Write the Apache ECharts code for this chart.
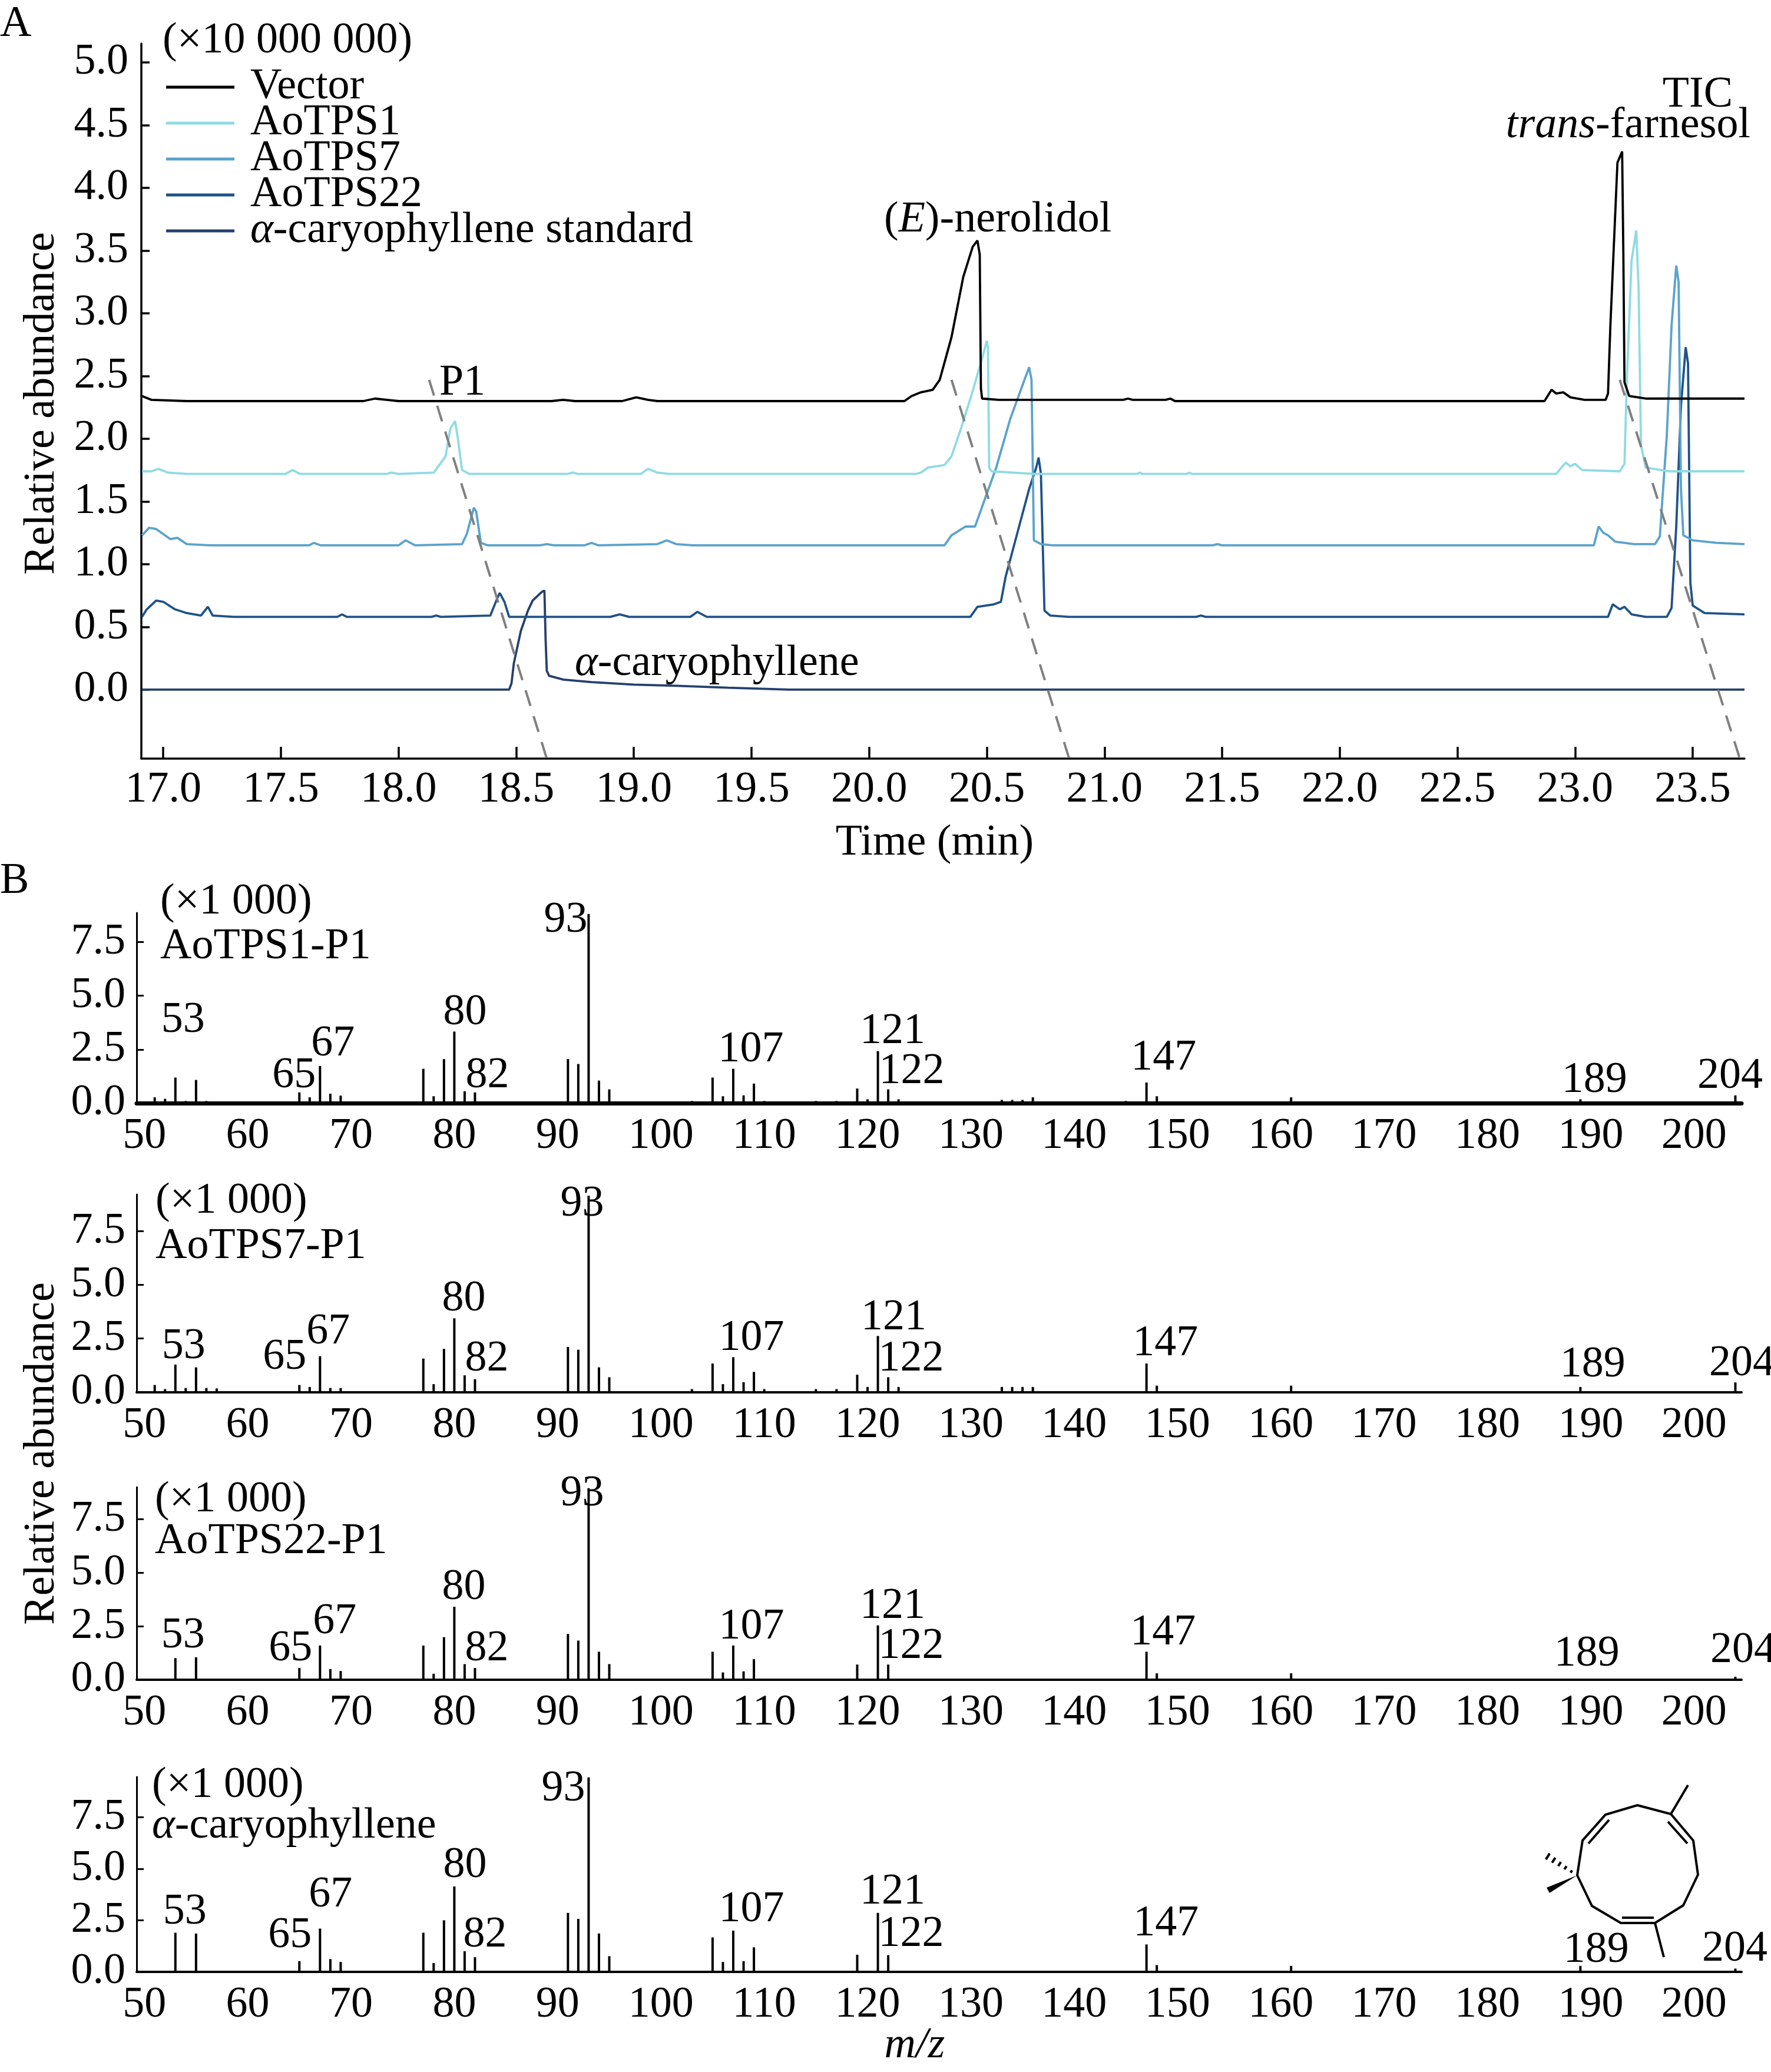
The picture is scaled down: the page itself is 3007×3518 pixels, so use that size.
<!doctype html>
<html>
<head>
<meta charset="utf-8">
<title>TIC and mass spectra</title>
<style>
html, body { margin: 0; padding: 0; background: #fff; }
#chart { width: 3007px; height: 3518px; }
</style>
</head>
<body>
<div id="chart"></div>
<script src="https://cdn.jsdelivr.net/npm/echarts@6/dist/echarts.min.js"></script>
<script>
// ---- panel A: total ion chromatograms, [time (min), abundance x10 000 000]
var vectorTrace = [[16.91,2.34],[16.95,2.31],[17.1,2.30],[17.5,2.30],[17.85,2.30],[17.9,2.32],[17.95,2.31],[18.0,2.30],[18.65,2.30],[18.7,2.31],[18.75,2.30],[18.95,2.30],[19.01,2.33],[19.06,2.31],[19.1,2.30],[20.15,2.30],[20.18,2.34],[20.22,2.37],[20.27,2.39],[20.30,2.47],[20.35,2.81],[20.40,3.29],[20.44,3.53],[20.46,3.58],[20.47,3.47],[20.475,2.40],[20.48,2.32],[20.55,2.31],[21.08,2.31],[21.1,2.32],[21.12,2.31],[21.26,2.31],[21.28,2.32],[21.3,2.30],[22.87,2.30],[22.90,2.39],[22.92,2.36],[22.95,2.37],[22.98,2.33],[23.04,2.31],[23.13,2.31],[23.14,2.36],[23.15,2.90],[23.18,4.20],[23.20,4.29],[23.205,3.5],[23.21,2.45],[23.23,2.34],[23.3,2.32],[23.72,2.32]];
var tps1Trace = [[16.91,1.74],[16.95,1.74],[16.98,1.76],[17.02,1.73],[17.1,1.72],[17.52,1.72],[17.55,1.75],[17.58,1.72],[17.95,1.72],[17.97,1.73],[18.0,1.72],[18.15,1.73],[18.20,1.86],[18.22,2.08],[18.24,2.14],[18.25,2.03],[18.27,1.75],[18.3,1.72],[18.72,1.72],[18.74,1.73],[18.76,1.72],[19.03,1.72],[19.06,1.76],[19.1,1.73],[19.15,1.72],[20.2,1.72],[20.22,1.73],[20.25,1.77],[20.32,1.79],[20.35,1.86],[20.39,2.08],[20.44,2.38],[20.48,2.64],[20.50,2.78],[20.505,2.72],[20.51,1.77],[20.52,1.74],[20.7,1.72],[21.14,1.72],[21.15,1.73],[21.16,1.72],[21.35,1.72],[21.36,1.73],[21.37,1.72],[22.92,1.72],[22.96,1.81],[22.98,1.78],[23.0,1.80],[23.03,1.75],[23.19,1.74],[23.21,1.80],[23.22,2.47],[23.24,3.42],[23.26,3.66],[23.27,3.2],[23.28,1.95],[23.30,1.77],[23.4,1.74],[23.72,1.74]];
var tps7Trace = [[16.91,1.23],[16.94,1.29],[16.97,1.28],[17.03,1.20],[17.06,1.21],[17.1,1.16],[17.2,1.15],[17.62,1.15],[17.64,1.17],[17.67,1.15],[18.0,1.15],[18.03,1.19],[18.07,1.15],[18.27,1.16],[18.29,1.24],[18.32,1.45],[18.33,1.42],[18.35,1.17],[18.38,1.15],[18.6,1.15],[18.63,1.16],[18.66,1.15],[18.79,1.15],[18.82,1.17],[18.85,1.15],[19.1,1.16],[19.14,1.19],[19.18,1.16],[19.25,1.15],[20.32,1.15],[20.35,1.23],[20.41,1.30],[20.45,1.30],[20.49,1.51],[20.54,1.77],[20.60,2.16],[20.66,2.47],[20.68,2.57],[20.69,2.47],[20.70,1.19],[20.73,1.16],[20.78,1.15],[21.46,1.15],[21.48,1.16],[21.5,1.15],[23.08,1.15],[23.10,1.30],[23.12,1.25],[23.14,1.23],[23.17,1.18],[23.25,1.16],[23.34,1.16],[23.36,1.22],[23.39,2.03],[23.41,2.90],[23.43,3.38],[23.44,3.25],[23.45,1.60],[23.46,1.23],[23.50,1.19],[23.6,1.17],[23.72,1.16]];
var tps22Trace = [[16.91,0.58],[16.93,0.64],[16.97,0.71],[17.0,0.70],[17.05,0.64],[17.1,0.61],[17.16,0.59],[17.19,0.66],[17.21,0.59],[17.3,0.58],[17.74,0.58],[17.76,0.60],[17.78,0.58],[18.14,0.58],[18.16,0.59],[18.18,0.58],[18.39,0.59],[18.42,0.73],[18.43,0.77],[18.45,0.70],[18.47,0.58],[18.9,0.58],[18.94,0.60],[18.98,0.58],[19.24,0.58],[19.27,0.62],[19.31,0.58],[20.43,0.58],[20.46,0.66],[20.53,0.68],[20.56,0.70],[20.58,0.90],[20.63,1.25],[20.68,1.60],[20.71,1.77],[20.72,1.85],[20.73,1.72],[20.745,0.63],[20.77,0.59],[20.85,0.58],[21.39,0.58],[21.41,0.59],[21.43,0.58],[23.14,0.58],[23.16,0.68],[23.19,0.64],[23.21,0.66],[23.24,0.60],[23.30,0.58],[23.39,0.58],[23.41,0.65],[23.43,1.30],[23.45,2.26],[23.47,2.73],[23.48,2.60],[23.49,0.85],[23.50,0.67],[23.55,0.61],[23.72,0.60]];
var standardTrace = [[16.91,0],[18.47,0],[18.48,0.05],[18.49,0.21],[18.52,0.47],[18.55,0.63],[18.57,0.71],[18.61,0.78],[18.62,0.79],[18.625,0.4],[18.63,0.15],[18.64,0.11],[18.70,0.08],[18.82,0.06],[19.0,0.04],[19.18,0.03],[19.4,0.015],[19.66,0],[23.72,0]];

// dashed guides linking the same compound across traces
var p1Guide = [[18.13,2.47],[18.63,-0.55]];
var nerolidolGuide = [[20.35,2.47],[20.85,-0.55]];
var farnesolGuide = [[23.19,2.47],[23.70,-0.55]];

var timeTicks = [17.0,17.5,18.0,18.5,19.0,19.5,20.0,20.5,21.0,21.5,22.0,22.5,23.0,23.5];
var ticTicks = [0.0,0.5,1.0,1.5,2.0,2.5,3.0,3.5,4.0,4.5,5.0];

// ---- panel B: mass spectra, [m/z, abundance x1 000]
var tps1Spectrum = [[51,0.27],[52,0.2],[53,1.19],[54,0.1],[55,1.08],[56,0.1],[57,0.08],[65,0.5],[66,0.27],[67,1.73],[68,0.44],[69,0.35],[77,1.6],[78,0.32],[79,2.05],[80,3.33],[81,0.55],[82,0.5],[91,2.05],[92,1.82],[93,8.8],[94,1.05],[95,0.64],[103,0.1],[105,1.19],[106,0.32],[107,1.6],[108,0.36],[109,0.91],[110,0.1],[115,0.1],[117,0.1],[119,0.68],[120,0.18],[121,2.42],[122,0.64],[123,0.18],[133,0.15],[134,0.15],[135,0.15],[136,0.27],[145,0.1],[147,0.96],[148,0.32],[161,0.27],[175,0.04],[189,0.18],[204,0.36]];
var tps7Spectrum = [[51,0.34],[52,0.15],[53,1.29],[54,0.2],[55,1.16],[56,0.2],[57,0.18],[65,0.34],[66,0.25],[67,1.68],[68,0.2],[69,0.2],[77,1.57],[78,0.38],[79,2.02],[80,3.44],[81,0.79],[82,0.61],[91,2.11],[92,1.98],[93,9.14],[94,1.16],[95,0.7],[103,0.15],[105,1.34],[106,0.38],[107,1.63],[108,0.47],[109,0.95],[110,0.15],[115,0.15],[117,0.15],[119,0.82],[120,0.25],[121,2.62],[122,0.7],[123,0.25],[133,0.25],[134,0.25],[135,0.25],[136,0.25],[147,1.34],[148,0.31],[161,0.31],[189,0.25],[204,0.46]];
var tps22Spectrum = [[53,1.01],[55,1.05],[65,0.55],[67,1.6],[68,0.5],[69,0.41],[77,1.6],[78,0.28],[79,1.99],[80,3.41],[81,0.73],[82,0.55],[91,2.14],[92,1.83],[93,8.95],[94,1.31],[95,0.73],[105,1.31],[106,0.34],[107,1.6],[108,0.39],[109,0.96],[119,0.71],[121,2.54],[122,0.71],[147,1.31],[148,0.3],[161,0.3],[189,0.04],[204,0.14]];
var standardSpectrum = [[53,1.9],[55,1.86],[65,0.52],[67,2.1],[68,0.62],[69,0.48],[77,1.9],[78,0.43],[79,2.5],[80,4.14],[81,1.0],[82,0.71],[91,2.86],[92,2.57],[93,9.43],[94,1.86],[95,0.76],[105,1.67],[106,0.48],[107,2.0],[108,0.52],[109,1.19],[119,0.83],[121,2.86],[122,0.81],[147,1.33],[148,0.33],[161,0.29],[189,0.29],[204,0.16]];

var mzTicks = [50,60,70,80,90,100,110,120,130,140,150,160,170,180,190,200];
var msTicks = [0.0,2.5,5.0,7.5];
var spectrumNames = ['AoTPS1-P1','AoTPS7-P1','AoTPS22-P1','{i|α}-caryophyllene'];

// ---- layout / style
var FONT = 'Liberation Serif';
var FS = 74;
var colors = ['#000000','#8fdbe3','#5aa3cc','#1f5288','#24406e'];
var traceNames = ['Vector','AoTPS1','AoTPS7','AoTPS22','α-caryophyllene standard'];
var traces = [vectorTrace, tps1Trace, tps7Trace, tps22Trace, standardTrace];
var spectra = [tps1Spectrum, tps7Spectrum, tps22Spectrum, standardSpectrum];

// grids of the mass spectra: top px, height px, y max, x-axis width
var msGrid = [
    {top: 1550, height: 323, max: 8.85, line: 7},
    {top: 2028, height: 336, max: 9.2, line: 4},
    {top: 2525, height: 327, max: 9.0, line: 4},
    {top: 3017, height: 331, max: 9.45, line: 4}
];
// label centre relative to the bar top [dx, dy] for the annotated peaks
var peakLabelPos = [
    {53:[13,-97],65:[-9,-28],67:[22,-37],80:[18,-32],82:[21,-28],93:[-39,11],107:[30,-32],121:[25,-33],122:[40,-30],147:[29,-41],189:[24,-32],204:[-9,-32]},
    {53:[14,-30],65:[-25,-47],67:[14,-41],80:[16,-33],82:[20,-34],93:[-11,14],107:[31,-32],121:[27,-31],122:[39,-31],147:[32,-33],189:[21,-37],204:[11,-32]},
    {53:[13,-38],65:[-15,-32],67:[25,-40],80:[16,-33],82:[20,-32],93:[-11,10],107:[31,-31],121:[25,-32],122:[39,-31],147:[28,-32],189:[11,-42],204:[13,-44]},
    {53:[16,-35],65:[-16,-43],67:[18,-57],80:[18,-35],82:[17,-38],93:[-43,20],107:[31,-35],121:[25,-35],122:[39,-35],147:[33,-35],189:[27,-26],204:[-1,-33]}
];

function fmt1(v) { return Number(v).toFixed(1); }

var grids = [{left: 240, top: 74, width: 2722, height: 1214}];
var xAxes = [{
    type: 'value', gridIndex: 0, min: 16.907, max: 23.72,
    axisLine: {onZero: false, lineStyle: {color: '#000', width: 3.5}},
    axisTick: {inside: true, length: 20, customValues: timeTicks, lineStyle: {color: '#000', width: 3.5}},
    axisLabel: {customValues: timeTicks, formatter: fmt1, margin: 17, fontFamily: FONT, fontSize: FS, color: '#000'},
    splitLine: {show: false}
}];
var yAxes = [{
    type: 'value', gridIndex: 0, min: -0.55, max: 5.15,
    axisLine: {lineStyle: {color: '#000', width: 3.5}},
    axisTick: {inside: true, length: 14, customValues: ticTicks, lineStyle: {color: '#000', width: 3.5}},
    axisLabel: {customValues: ticTicks, formatter: fmt1, margin: 22, fontFamily: FONT, fontSize: FS, color: '#000'},
    splitLine: {show: false}
}];
var series = [];

traces.forEach(function (t, i) {
    series.push({
        name: traceNames[i], type: 'line', xAxisIndex: 0, yAxisIndex: 0,
        symbol: 'none', showSymbol: false, z: 10 - i,
        lineStyle: {color: colors[i], width: 3.8}, itemStyle: {color: colors[i]},
        data: t
    });
});
[p1Guide, nerolidolGuide, farnesolGuide].forEach(function (g) {
    series.push({
        type: 'line', xAxisIndex: 0, yAxisIndex: 0, symbol: 'none', z: 20,
        lineStyle: {color: '#808080', width: 4, type: [28, 18]},
        data: g
    });
});

msGrid.forEach(function (g, k) {
    var idx = k + 1;
    grids.push({left: 232, top: g.top, width: 2725, height: g.height});
    xAxes.push({
        type: 'value', gridIndex: idx, min: 49.25, max: 204.6,
        axisLine: {onZero: false, lineStyle: {color: '#000', width: g.line}},
        axisTick: {show: false},
        axisLabel: {customValues: mzTicks, margin: 20, fontFamily: FONT, fontSize: FS, color: '#000'},
        splitLine: {show: false}
    });
    yAxes.push({
        type: 'value', gridIndex: idx, min: 0, max: g.max,
        axisLine: {lineStyle: {color: '#000', width: 3}},
        axisTick: {inside: true, length: 12, customValues: msTicks, lineStyle: {color: '#000', width: 3}},
        axisLabel: {customValues: msTicks, formatter: fmt1, margin: 19, fontFamily: FONT, fontSize: FS, color: '#000'},
        splitLine: {show: false}
    });
    var pos = peakLabelPos[k];
    series.push({
        type: 'bar', xAxisIndex: idx, yAxisIndex: idx, barWidth: 4,
        itemStyle: {color: '#000'},
        label: {
            show: false, position: 'top', distance: 0,
            fontFamily: FONT, fontSize: FS, lineHeight: 72, color: '#000',
            formatter: function (p) { return String(p.value[0]); }
        },
        data: spectra[k].map(function (d) {
            var o = pos[d[0]];
            if (!o) return {value: d};
            return {value: d, label: {show: true, offset: [o[0], o[1] + 36]}};
        })
    });
});

function txt(x, y, s, extra) {
    var st = {text: s, x: 0, y: 0, fontFamily: FONT, fontSize: FS, fill: '#000',
        align: 'left', verticalAlign: 'middle',
        rich: {i: {fontFamily: FONT, fontSize: FS, fontStyle: 'italic', fill: '#000'}}};
    var el = {type: 'text', x: x, y: y, z: 100, style: st};
    if (extra) {
        if (extra.align) st.align = extra.align;
        if (extra.rotation) el.rotation = extra.rotation;
        if (extra.italic) st.fontStyle = 'italic';
    }
    return el;
}

var graphics = [
    txt(0, 42, 'A'),
    txt(0, 1497, 'B'),
    txt(276, 70, '(×10 000 000)'),
    txt(72, 685, 'Relative abundance', {align: 'center', rotation: Math.PI / 2}),
    txt(1587, 1432, 'Time (min)', {align: 'center'}),
    txt(785, 651, 'P1', {align: 'center'}),
    txt(1501, 374, '({i|E})-nerolidol'),
    txt(2942, 162, 'TIC', {align: 'right'}),
    txt(2972, 214, '{i|trans}-farnesol', {align: 'right'}),
    txt(976, 1127, '{i|α}-caryophyllene'),
    txt(72, 2468, 'Relative abundance', {align: 'center', rotation: Math.PI / 2}),
    txt(1553, 3474, 'm/z', {align: 'center', italic: true})
];
var msLabelY = [[1532, 1608], [2040, 2117], [2547, 2618], [3032, 3101]];
var msLabelX = [272, 264, 263, 258];
msLabelY.forEach(function (yy, k) {
    graphics.push(txt(msLabelX[k], yy[0], '(×1 000)'));
    graphics.push(txt(msLabelX[k], yy[1], spectrumNames[k]));
});

// skeletal formula of alpha-caryophyllene
var ring = [[2780,3065],[2837,3080],[2875,3125],[2883,3183],[2858,3235],[2810,3265],[2752,3265],[2703,3236],[2678,3184],[2687,3125],[2726,3081]];
var bondStyle = {stroke: '#000', lineWidth: 4, fill: null};
graphics.push({type: 'polygon', z: 100, shape: {points: ring}, style: {stroke: '#000', lineWidth: 4, fill: null, lineJoin: 'miter'}});
[[2832,3093,2865,3130],[2697,3130,2732,3090],[2754,3256,2808,3256],[2837,3080,2866,3031],[2810,3265,2825,3323]].forEach(function (l) {
    graphics.push({type: 'line', z: 100, shape: {x1: l[0], y1: l[1], x2: l[2], y2: l[3]}, style: bondStyle});
});
graphics.push({type: 'polygon', z: 100, shape: {points: [[2678,3184],[2631,3214],[2626,3205]]}, style: {fill: '#000'}});
(function () {
    var a = [2678, 3184], b = [2628, 3152];
    var dx = b[0] - a[0], dy = b[1] - a[1], len = Math.sqrt(dx * dx + dy * dy);
    var px = -dy / len, py = dx / len;
    [0.2, 0.4, 0.6, 0.8, 1.0].forEach(function (f) {
        var cx = a[0] + dx * f, cy = a[1] + dy * f, h = 1.5 + 4.5 * f;
        graphics.push({type: 'line', z: 100,
            shape: {x1: cx - px * h, y1: cy - py * h, x2: cx + px * h, y2: cy + py * h},
            style: {stroke: '#000', lineWidth: 4}});
    });
})();

var option = {
    animation: false,
    backgroundColor: '#fff',
    grid: grids,
    xAxis: xAxes,
    yAxis: yAxes,
    legend: {
        data: traceNames,
        orient: 'vertical', left: 277, top: 106,
        icon: 'rect', itemWidth: 116, itemHeight: 5, itemGap: -13,
        textStyle: {
            fontFamily: FONT, fontSize: FS, color: '#000', padding: [0, 0, 0, 22],
            rich: {i: {fontFamily: FONT, fontSize: FS, fontStyle: 'italic', color: '#000'}}
        },
        formatter: function (n) {
            return n.indexOf('α') === 0 ? '{i|α}' + n.slice(1) : n;
        }
    },
    series: series,
    graphic: graphics
};

var myChart = echarts.init(document.getElementById('chart'));
myChart.setOption(option);
</script>
</body>
</html>
